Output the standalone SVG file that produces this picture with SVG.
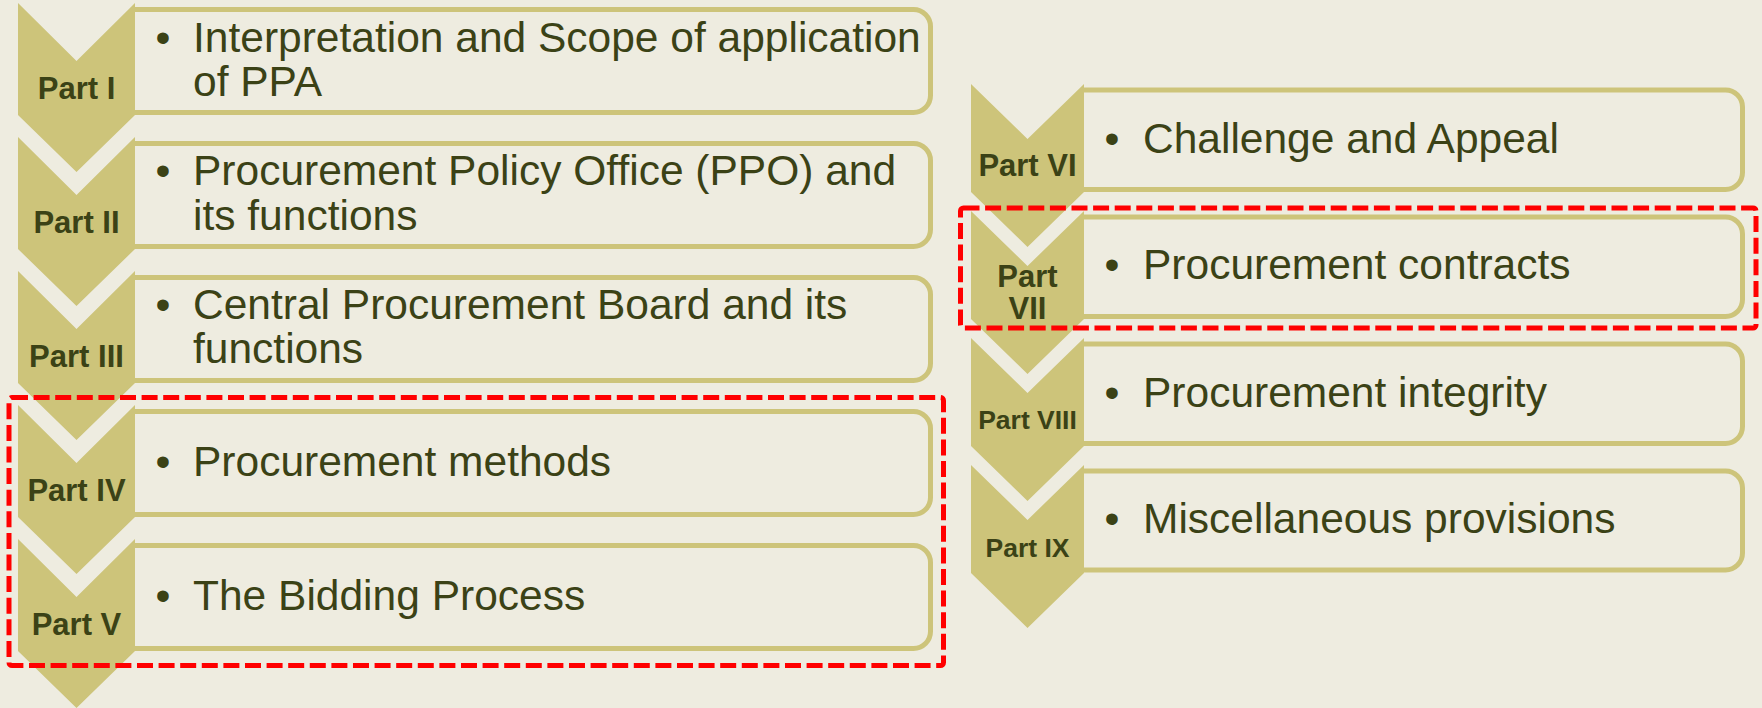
<svg xmlns="http://www.w3.org/2000/svg" width="1762" height="708" viewBox="0 0 1762 708">
<style>
.bg{fill:#eeece0}
.chev{fill:#cdc47a}
.box{fill:#eeece0;stroke:#cdc47a;stroke-width:5}
.lbl{font-family:"Liberation Sans",Arial,sans-serif;font-weight:bold;fill:#3b4216;text-anchor:middle}
.txt{font-family:"Liberation Sans",Arial,sans-serif;font-size:42.5px;fill:#3b4216}
.bul{font-family:"Liberation Sans",Arial,sans-serif;font-size:42.5px;fill:#3b4216;text-anchor:middle}
.hl{fill:none;stroke:#ff0000;stroke-width:5;stroke-dasharray:16 5.6}
</style>
<rect class="bg" x="0" y="0" width="1762" height="708"/>

<g id="part1">
<path class="box" d="M135,9.5 H913.5 A17,17 0 0 1 930.5,26.5 V95.5 A17,17 0 0 1 913.5,112.5 H135"/>
<polygon class="chev" points="18,3 76.5,61 135,3 135,115 76.5,172 18,115"/>
<text class="lbl" x="76.5" y="99" font-size="31">Part I</text>
<text class="bul" x="163" y="51.7">•</text>
<text class="txt" x="193" y="51.7">Interpretation and Scope of application</text>
<text class="txt" x="193" y="95.7">of PPA</text>
</g>

<g id="part2">
<path class="box" d="M135,143.5 H913.5 A17,17 0 0 1 930.5,160.5 V229.5 A17,17 0 0 1 913.5,246.5 H135"/>
<polygon class="chev" points="18,137 76.5,195 135,137 135,249 76.5,306 18,249"/>
<text class="lbl" x="76.5" y="233" font-size="31">Part II</text>
<text class="bul" x="163" y="185">•</text>
<text class="txt" x="193" y="185">Procurement Policy Office (PPO) and</text>
<text class="txt" x="193" y="230">its functions</text>
</g>

<g id="part3">
<path class="box" d="M135,277.5 H913.5 A17,17 0 0 1 930.5,294.5 V363.5 A17,17 0 0 1 913.5,380.5 H135"/>
<polygon class="chev" points="18,271 76.5,329 135,271 135,383 76.5,440 18,383"/>
<text class="lbl" x="76.5" y="367" font-size="31">Part III</text>
<text class="bul" x="163" y="318.5">•</text>
<text class="txt" x="193" y="318.5">Central Procurement Board and its</text>
<text class="txt" x="193" y="362.5">functions</text>
</g>

<g id="part4">
<path class="box" d="M135,411.5 H913.5 A17,17 0 0 1 930.5,428.5 V497.5 A17,17 0 0 1 913.5,514.5 H135"/>
<polygon class="chev" points="18,405 76.5,463 135,405 135,517 76.5,574 18,517"/>
<text class="lbl" x="76.5" y="501" font-size="31">Part IV</text>
<text class="bul" x="163" y="476">•</text>
<text class="txt" x="193" y="476">Procurement methods</text>
</g>

<g id="part5">
<path class="box" d="M135,545.5 H913.5 A17,17 0 0 1 930.5,562.5 V631.5 A17,17 0 0 1 913.5,648.5 H135"/>
<polygon class="chev" points="18,539 76.5,597 135,539 135,651 76.5,708 18,651"/>
<text class="lbl" x="76.5" y="635" font-size="31">Part V</text>
<text class="bul" x="163" y="609.5">•</text>
<text class="txt" x="193" y="609.5">The Bidding Process</text>
</g>

<g id="part6">
<path class="box" d="M1084,90 H1725.5 A17,17 0 0 1 1742.5,107 V172.5 A17,17 0 0 1 1725.5,189.5 H1084"/>
<polygon class="chev" points="971,84 1027.5,139 1084,84 1084,192 1027.5,247 971,192"/>
<text class="lbl" x="1027.5" y="176" font-size="31">Part VI</text>
<text class="bul" x="1112" y="152.7">•</text>
<text class="txt" x="1143" y="152.7">Challenge and Appeal</text>
</g>

<g id="part7">
<path class="box" d="M1084,217 H1725.5 A17,17 0 0 1 1742.5,234 V299.5 A17,17 0 0 1 1725.5,316.5 H1084"/>
<polygon class="chev" points="971,211 1027.5,266 1084,211 1084,319 1027.5,374 971,319"/>
<text class="lbl" x="1027.5" y="287" font-size="31">Part</text>
<text class="lbl" x="1027.5" y="319" font-size="31">VII</text>
<text class="bul" x="1112" y="279.3">•</text>
<text class="txt" x="1143" y="279.3">Procurement contracts</text>
</g>

<g id="part8">
<path class="box" d="M1084,344 H1725.5 A17,17 0 0 1 1742.5,361 V426.5 A17,17 0 0 1 1725.5,443.5 H1084"/>
<polygon class="chev" points="971,338 1027.5,393 1084,338 1084,446 1027.5,501 971,446"/>
<text class="lbl" x="1027.5" y="429" font-size="26.5">Part VIII</text>
<text class="bul" x="1112" y="407.3">•</text>
<text class="txt" x="1143" y="407.3">Procurement integrity</text>
</g>

<g id="part9">
<path class="box" d="M1084,471 H1725.5 A17,17 0 0 1 1742.5,488 V553 A17,17 0 0 1 1725.5,570 H1084"/>
<polygon class="chev" points="971,465 1027.5,520 1084,465 1084,573 1027.5,628 971,573"/>
<text class="lbl" x="1027.5" y="556.5" font-size="26.5">Part IX</text>
<text class="bul" x="1112" y="533.3">•</text>
<text class="txt" x="1143" y="533.3">Miscellaneous provisions</text>
</g>

<g id="highlights">
<rect class="hl" x="9" y="397.5" width="934.5" height="268" rx="3"/>
<rect class="hl" x="960.5" y="208" width="795.5" height="120" rx="3"/>
</g>
</svg>
